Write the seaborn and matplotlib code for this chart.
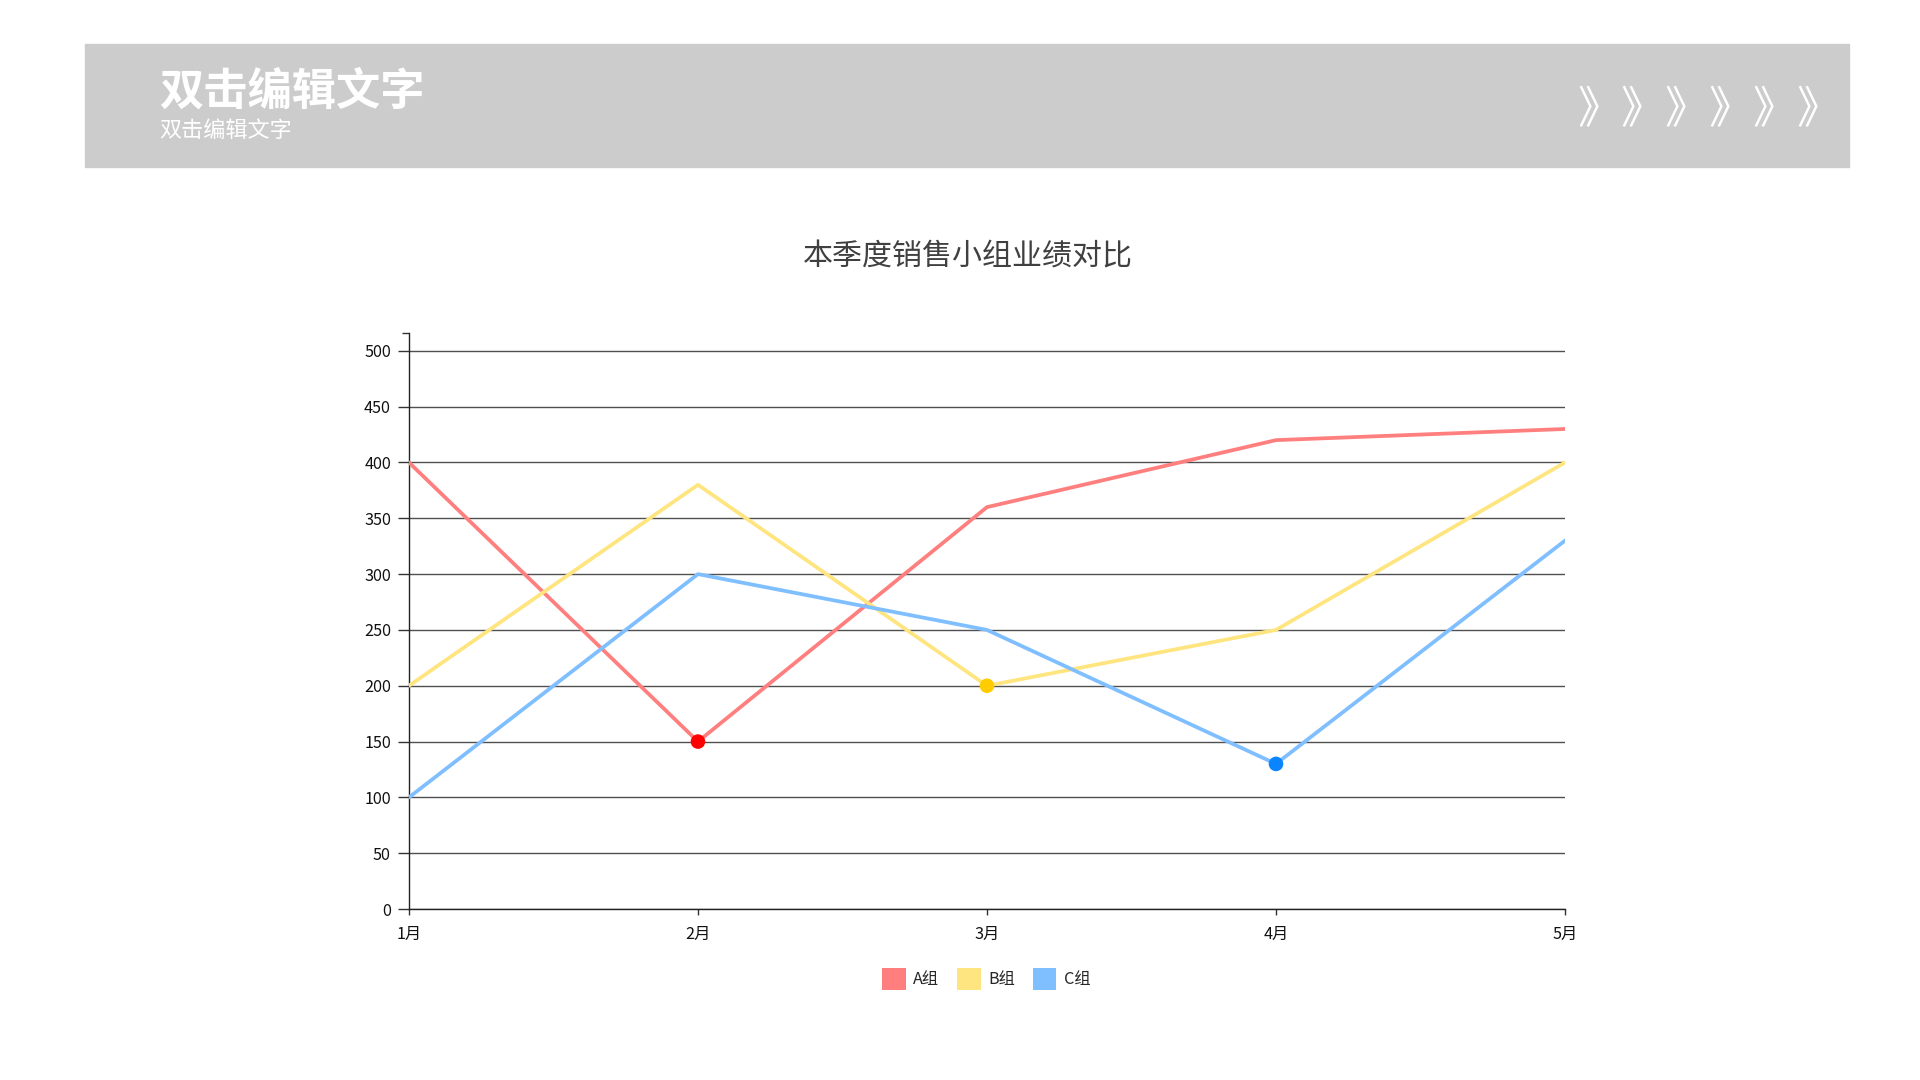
import matplotlib
matplotlib.use('Agg')
import matplotlib.pyplot as plt
from matplotlib.patches import Rectangle, Patch
import pandas as pd
import seaborn as sns

# ---- data ----
months = ['1月', '2月', '3月', '4月', '5月']
groups = ['A组', 'B组', 'C组']
a_vals = [400, 150, 360, 420, 430]
b_vals = [200, 380, 200, 250, 400]
c_vals = [100, 300, 250, 130, 330]
line_colors = ['#ff7f7f', '#ffe57f', '#7fbfff']
# highlighted point per group (month index) and its colour
hl_index = [1, 2, 3]
hl_colors = ['#ff0000', '#ffcc00', '#0a84ff']
y_ticks = [0, 50, 100, 150, 200, 250, 300, 350, 400, 450, 500]

header_title = '双击编辑文字'
header_sub = '双击编辑文字'
header_arrows = '》' * 6
chart_title = '本季度销售小组业绩对比'

sns.set_theme(style='white')
plt.rcParams['font.family'] = ['Noto Sans CJK SC', 'DejaVu Sans']
plt.rcParams['axes.unicode_minus'] = False

rows = []
for g, vals in zip(groups, [a_vals, b_vals, c_vals]):
    for m, v in zip(months, vals):
        rows.append({'month': m, 'value': v, 'group': g})
df = pd.DataFrame(rows)

fig = plt.figure(figsize=(19.2, 10.8), dpi=100)

# header band
fig.patches.append(Rectangle((0.0443, 0.8454), 0.9187, 0.1139,
                             transform=fig.transFigure, color='#cccccc', zorder=0))
fig.text(0.0831, 0.915, header_title, color='white', fontsize=31.9,
         fontweight='bold', ha='left', va='center')
fig.text(0.0831, 0.879, header_sub, color='white', fontsize=15.9,
         ha='left', va='center')
fig.text(1577 / 1920, 0.898, header_arrows, color='white', fontsize=31.7,
         ha='left', va='center')

ax = fig.add_axes([0.2130, 0.1583, 0.6021, 0.5334])
sns.lineplot(data=df, x='month', y='value', hue='group', palette=line_colors,
             linewidth=2.7, ax=ax, legend=False, zorder=3)

# highlighted points
hl = pd.DataFrame({
    'month': [months[i] for i in hl_index],
    'value': [v[i] for v, i in zip([a_vals, b_vals, c_vals], hl_index)],
    'group': groups,
})
sns.scatterplot(data=hl, x='month', y='value', hue='group', palette=hl_colors,
                s=110, edgecolor='none', ax=ax, legend=False, zorder=4)

ax.set_xlim(0, 4)
ax.set_ylim(0, 516)
ax.set_yticks(y_ticks)
ax.set_yticks([516], minor=True)
ax.yaxis.grid(True, color='#505050', linewidth=1.0)
ax.set_axisbelow(True)
ax.set_xlabel('')
ax.set_ylabel('')
for s in ['top', 'right']:
    ax.spines[s].set_visible(False)
for s in ['left', 'bottom']:
    ax.spines[s].set_color('#222222')
    ax.spines[s].set_linewidth(1.0)
ax.tick_params(axis='y', which='major', left=True, length=8, width=1,
               color='#333333', labelsize=11.7, labelcolor='#111111', pad=5)
ax.tick_params(axis='y', which='minor', left=True, length=5, width=1, color='#333333')
ax.tick_params(axis='x', bottom=True, length=4, width=1, color='#333333',
               labelsize=11.7, labelcolor='#111111', pad=8.5)

fig.text(0.504, 0.7625, chart_title, fontsize=21.6, color='#404040',
         ha='center', va='center')

handles = [Patch(facecolor=c, edgecolor='none') for c in line_colors]
fig.legend(handles, groups, loc='center', bbox_to_anchor=(0.5137, 0.0935),
           ncol=3, frameon=False, fontsize=11.7, handlelength=1.45,
           handleheight=1.75, handletextpad=0.45, columnspacing=1.1)

fig.savefig('out.png', dpi=100)
